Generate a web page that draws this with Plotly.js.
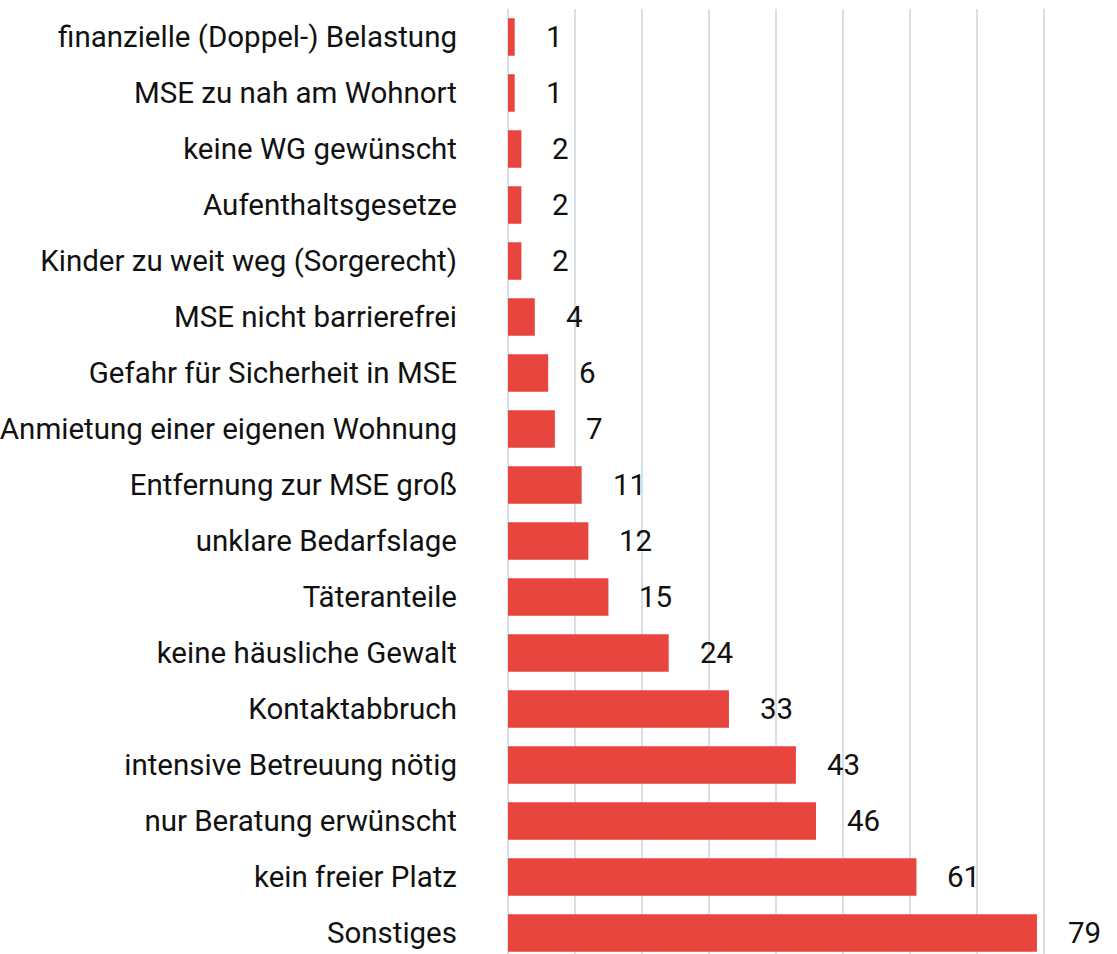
<!DOCTYPE html>
<html>
<head>
<meta charset="utf-8">
<script src="https://cdn.plot.ly/plotly-3.0.1.min.js"></script>
<style>
  html, body { margin: 0; padding: 0; background: #fff; }
  #chart { width: 1117px; height: 954px; }
</style>
</head>
<body>
<div id="chart"></div>
<script>
const categories = [
    'finanzielle (Doppel-) Belastung',
    'MSE zu nah am Wohnort',
    'keine WG gewünscht',
    'Aufenthaltsgesetze',
    'Kinder zu weit weg (Sorgerecht)',
    'MSE nicht barrierefrei',
    'Gefahr für Sicherheit in MSE',
    'Anmietung einer eigenen Wohnung',
    'Entfernung zur MSE groß',
    'unklare Bedarfslage',
    'Täteranteile',
    'keine häusliche Gewalt',
    'Kontaktabbruch',
    'intensive Betreuung nötig',
    'nur Beratung erwünscht',
    'kein freier Platz',
    'Sonstiges',
];
const counts = [1, 1, 2, 2, 2, 4, 6, 7, 11, 12, 15, 24, 33, 43, 46, 61, 79];

const font = 'Roboto, "Noto Sans", sans-serif';

let data = [
    {
        type: 'bar',
        orientation: 'h',
        x: counts,
        y: categories,
        marker: { color: '#e8453e' },
        hoverinfo: 'x+y',
    },
];

// value labels sit a fixed distance right of each bar end
let annotations = counts.map((v, i) => ({
    x: v,
    y: categories[i],
    xref: 'x',
    yref: 'y',
    xanchor: 'left',
    yanchor: 'middle',
    xshift: 29,
    text: String(v),
    showarrow: false,
    font: { family: font, size: 29.5, color: '#111111' },
}));

let layout = {
    width: 1117,
    height: 954,
    margin: { l: 508, r: 70, t: 9, b: 0 },
    paper_bgcolor: '#ffffff',
    plot_bgcolor: '#ffffff',
    showlegend: false,
    bargap: 0.33,
    font: { family: font, size: 29.5, color: '#111111' },
    xaxis: {
        range: [0, 80.5],
        dtick: 10,
        showgrid: true,
        gridcolor: '#d7dfe7',
        gridwidth: 2,
        zeroline: true,
        zerolinecolor: '#d7dfe7',
        zerolinewidth: 2,
        showticklabels: false,
        ticks: '',
    },
    yaxis: {
        type: 'category',
        range: [16.375, -0.5],
        ticks: '',
        showgrid: false,
        zeroline: false,
        ticklabelstandoff: 50,
        tickfont: { family: font, size: 29.5, color: '#111111' },
    },
    annotations: annotations,
};

let config = { displayModeBar: false, staticPlot: true };

Plotly.newPlot('chart', data, layout, config);
</script>
</body>
</html>
